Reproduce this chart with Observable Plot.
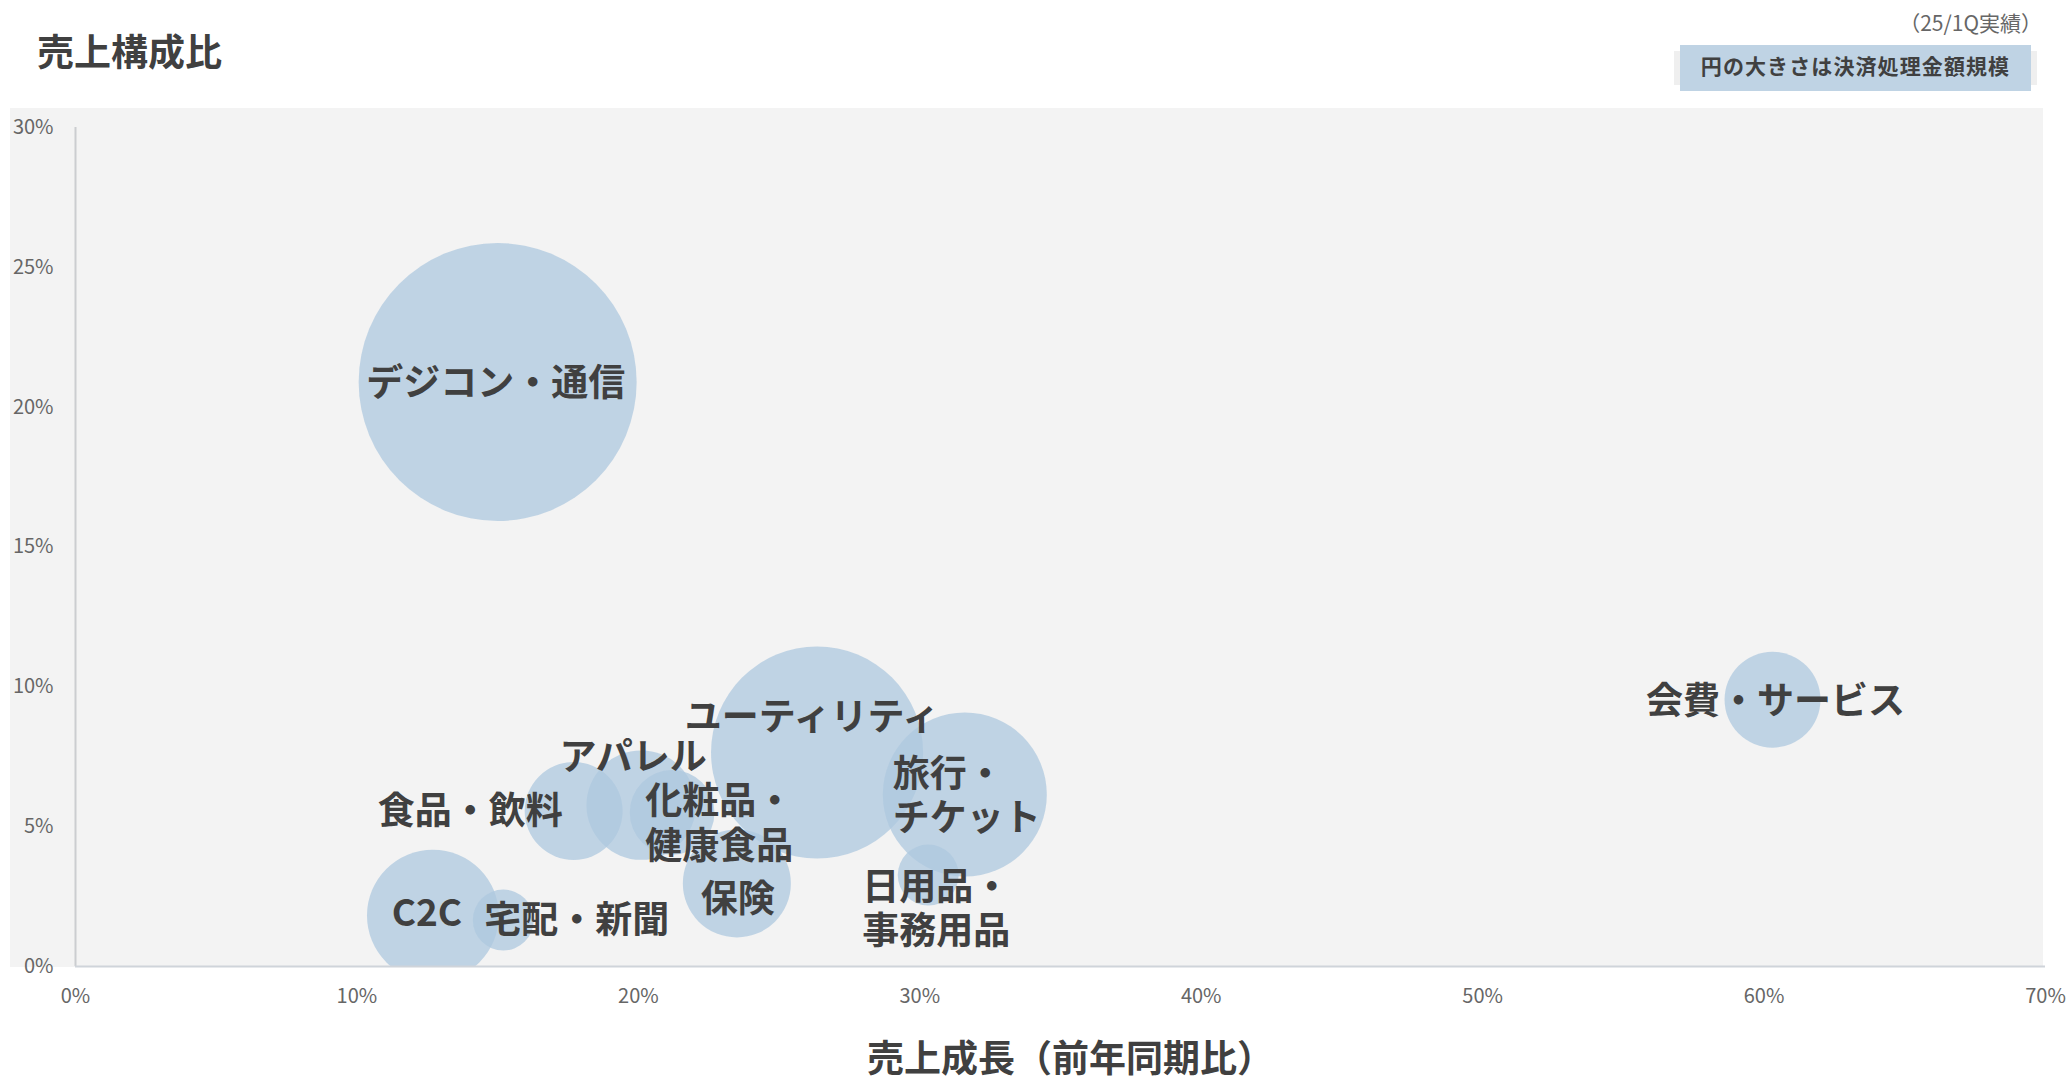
<!DOCTYPE html>
<html>
<head>
<meta charset="utf-8">
<script src="https://cdn.jsdelivr.net/npm/d3@7"></script>
<script src="https://cdn.jsdelivr.net/npm/@observablehq/plot@0.6"></script>
<style>
  html, body { margin: 0; padding: 0; background: #ffffff; }
  body { width: 2069px; height: 1079px; overflow: hidden; font-family: "Noto Sans CJK JP", "Noto Sans", sans-serif; }
  #header { position: relative; width: 2069px; height: 108px; }
  #title { position: absolute; left: 37px; top: 32px; font-size: 37px; line-height: 37px; font-weight: 700; color: #404040; white-space: nowrap; }
  #period { position: absolute; right: 27px; top: 10px; font-size: 21px; line-height: 24px; color: #666666; white-space: nowrap; }
  #legendShadow { position: absolute; left: 1674px; top: 51px; width: 363px; height: 34px; background: #efefef; }
  #legend { position: absolute; left: 1680px; top: 45px; width: 351px; height: 46px; background: #bfd3e4; color: #404040; font-size: 21px; font-weight: 700; letter-spacing: 1.1px; line-height: 40px; text-align: center; white-space: nowrap; }
  #chartWrap { position: relative; width: 2069px; height: 971px; }
  #panel { position: absolute; left: 10px; top: 0px; width: 2033px; height: 859px; background: #f3f3f3; }
  #chart { position: absolute; left: 0; top: 0; }
</style>
</head>
<body>
<div id="header">
  <div id="title">売上構成比</div>
  <div id="period">（25/1Q実績）</div>
  <div id="legendShadow"></div>
  <div id="legend">円の大きさは決済処理金額規模</div>
</div>
<div id="chartWrap">
  <div id="panel"></div>
  <div id="chart"></div>
</div>
<script>
// ---- data ----
const categories = ["デジコン・通信", "ユーティリティ", "旅行・チケット", "会費・サービス", "C2C", "宅配・新聞", "食品・飲料", "アパレル", "化粧品・健康食品", "保険", "日用品・事務用品"];
const labels = ["デジコン・通信", "ユーティリティ", "旅行・\nチケット", "会費・サービス", "C2C", "宅配・新聞", "食品・飲料", "アパレル", "化粧品・\n健康食品", "保険", "日用品・\n事務用品"];
const growth = [0.150, 0.2635, 0.316, 0.603, 0.127, 0.152, 0.177, 0.201, 0.212, 0.235, 0.303]; // 売上成長（前年同期比）
const share = [0.209, 0.0765, 0.0615, 0.0954, 0.0182, 0.0166, 0.0556, 0.0577, 0.0551, 0.0297, 0.0327]; // 売上構成比
const volume = [100, 58.2, 34.8, 11.9, 22.5, 4.8, 12.4, 15.5, 9.3, 15.1, 4.8]; // 決済処理金額規模（相対）
const xTicks = [0, 0.1, 0.2, 0.3, 0.4, 0.5, 0.6, 0.7];
const yTicks = [0, 0.05, 0.10, 0.15, 0.20, 0.25, 0.30];
const xTitle = "売上成長（前年同期比）";

const table = categories.map((c, i) => ({category: c, label: labels[i], growth: growth[i], share: share[i], volume: volume[i]}));

// label placement (layout only)
const labelLayout = {
  "デジコン・通信": {anchor: "middle", dx: -2, dy: 0},
  "ユーティリティ": {anchor: "middle", dx: -5, dy: -37},
  "旅行・チケット": {anchor: "start", dx: -72, dy: 0},
  "会費・サービス": {anchor: "middle", dx: 3, dy: 0},
  "C2C": {anchor: "middle", dx: -6, dy: -4},
  "宅配・新聞": {anchor: "start", dx: -19, dy: -1},
  "食品・飲料": {anchor: "end", dx: -11, dy: -1},
  "アパレル": {anchor: "middle", dx: -8, dy: -49},
  "化粧品・健康食品": {anchor: "start", dx: -27, dy: 10},
  "保険": {anchor: "middle", dx: 1, dy: 14},
  "日用品・事務用品": {anchor: "start", dx: -66, dy: 33}
};

const labelMarks = table.map(d => {
  const L = labelLayout[d.category];
  return Plot.text(table.filter(e => e.category === d.category), {
    x: "growth", y: "share", text: "label",
    textAnchor: L.anchor, dx: L.dx, dy: L.dy,
    fontSize: 37, fontWeight: 700, fill: "#404040", lineHeight: 1.19
  });
});

const pct = d3.format(".0%");

const chart = Plot.plot({
  width: 2069,
  height: 992,
  marginLeft: 75,
  marginRight: 24,
  marginTop: 19,
  marginBottom: 134,
  style: {background: "transparent", color: "#666666", fontFamily: "'Noto Sans CJK JP', 'Noto Sans', sans-serif"},
  x: {domain: [0, 0.7]},
  y: {domain: [0, 0.3]},
  r: {domain: [0, 100], range: [0, 139]},
  marks: [
    Plot.dot(table, {x: "growth", y: "share", r: "volume", fill: "#aec8df", fillOpacity: 0.75, stroke: "none", clip: true}),
    Plot.ruleX([0], {stroke: "#cbcdd0", strokeWidth: 2}),
    Plot.ruleY([0], {stroke: "#cfd4da", strokeWidth: 2}),
    Plot.axisX({ticks: xTicks, tickFormat: pct, tickSize: 0, tickPadding: 22, fontSize: 20, label: null}),
    Plot.axisY({ticks: yTicks, tickFormat: pct, tickSize: 0, tickPadding: 22, fontSize: 20, label: null}),
    ...labelMarks,
    Plot.text([xTitle], {frameAnchor: "bottom", text: d => d, dx: 10, dy: 105, fontSize: 37, fontWeight: 700, fill: "#404040"})
  ]
});
document.getElementById("chart").appendChild(chart);
</script>
</body>
</html>
